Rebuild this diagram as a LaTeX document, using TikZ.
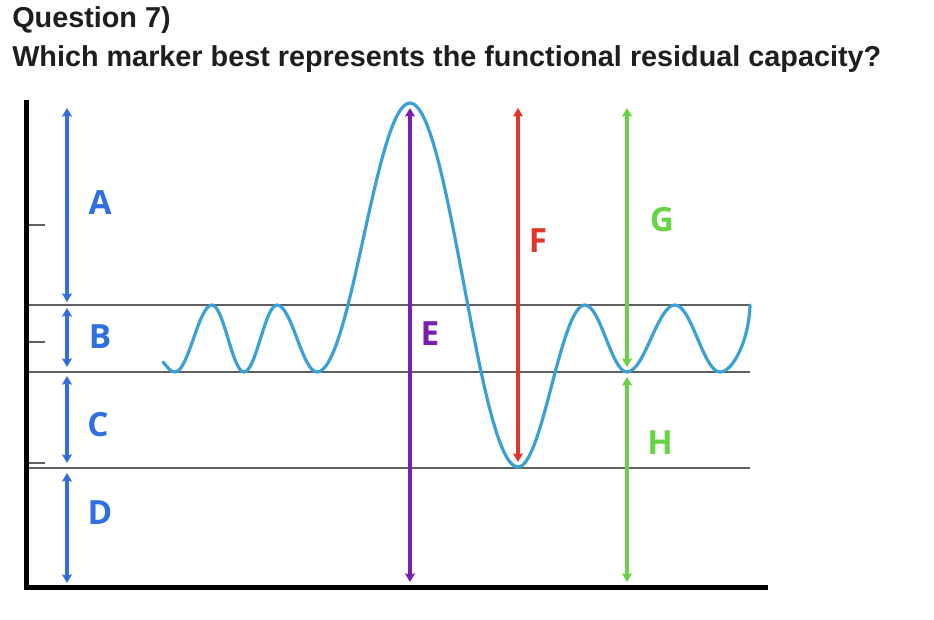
\documentclass[tikz,border=0pt]{standalone}
\usepackage{fontspec}
\setmainfont{Liberation Sans}
\newfontfamily\labelfont{Open Sans}
\usetikzlibrary{arrows.meta}
\definecolor{ablue}{HTML}{2F6FE0}
\definecolor{wavec}{HTML}{3BA0D6}
\definecolor{epurple}{HTML}{7A1FB0}
\definecolor{fred}{HTML}{E0352B}
\definecolor{ggreen}{HTML}{66D445}
\definecolor{gline}{HTML}{606060}
\definecolor{titlec}{HTML}{1E1E1E}
\tikzset{
  dbl/.style={line width=3.5pt, {Stealth[length=6.5pt,width=7.5pt,inset=1.3pt]}-{Stealth[length=6.5pt,width=7.5pt,inset=1.3pt]}},
  lbl/.style={inner sep=0pt, font=\labelfont\bfseries\fontsize{25}{30}\selectfont},
  ttl/.style={inner sep=0pt, anchor=base west, text=titlec, font=\bfseries\fontsize{21.6}{26}\selectfont},
  level/.style={gline, line width=1.5pt},
  tick/.style={gline, line width=1.5pt},
}
\begin{document}
\begin{tikzpicture}[x=0.75pt, y=-0.75pt]
\useasboundingbox[fill=white] (0,0) rectangle (934,620);
% title
\node[ttl] (q) at (12,28) {Question 7)};
\node[ttl] (w) at (12,67) {Which marker best represents the functional residual capacity?};
% level lines
\coordinate (L1a) at (29,305); \coordinate (L1b) at (750,305);
\coordinate (L2a) at (29,372); \coordinate (L2b) at (750,372);
\coordinate (L3a) at (29,468); \coordinate (L3b) at (750,468);
\draw[level] (L1a) -- (L1b);
\draw[level] (L2a) -- (L2b);
\draw[level] (L3a) -- (L3b);
% ticks
\coordinate (t1a) at (29,225); \coordinate (t1b) at (45,225);
\coordinate (t2a) at (29,342); \coordinate (t2b) at (45,342);
\coordinate (t3a) at (29,463); \coordinate (t3b) at (45,463);
\draw[tick] (t1a) -- (t1b);
\draw[tick] (t2a) -- (t2b);
\draw[tick] (t3a) -- (t3b);
% axes
\coordinate (ytop) at (26.5,100);
\coordinate (orig) at (26.5,587.5);
\coordinate (xend) at (768,587.5);
\draw[black, line width=3.75pt, line join=miter] (ytop) -- (orig) -- (xend);
% wave
\draw[wavec, line width=2.4pt, line cap=round]
  (163,362) .. controls (168,368) and (171,372) .. (175,372)
  .. controls (188.5,372) and (198.5,305) .. (212,305)
  .. controls (223.6,305) and (232.4,372) .. (244,372)
  .. controls (256,372) and (265,305) .. (277,305)
  .. controls (291.6,305) and (302.4,372) .. (317,372)
  .. controls (350.9,372) and (376.1,103) .. (410,103)
  .. controls (449.3,103) and (478.7,467) .. (518,467)
  .. controls (542.4,467) and (560.6,305) .. (585,305)
  .. controls (600.3,305) and (611.7,372) .. (627,372)
  .. controls (644.5,372) and (657.5,305) .. (675,305)
  .. controls (691.4,305) and (703.6,372) .. (720,372)
  .. controls (733,372) and (749,340) .. (750,305);
% blue arrows
\coordinate (Aa) at (67,108); \coordinate (Ab) at (67,302);
\coordinate (Ba) at (67,308); \coordinate (Bb) at (67,367);
\coordinate (Ca) at (67,376); \coordinate (Cb) at (67,463);
\coordinate (Da) at (67,473); \coordinate (Db) at (67,583);
\draw[dbl, ablue] (Aa) -- (Ab);
\draw[dbl, ablue] (Ba) -- (Bb);
\draw[dbl, ablue] (Ca) -- (Cb);
\draw[dbl, ablue] (Da) -- (Db);
% E F G H
\coordinate (Ea) at (410,108); \coordinate (Eb) at (410,582);
\coordinate (Fa) at (518,108); \coordinate (Fb) at (518,462);
\coordinate (Ga) at (627,108); \coordinate (Gb) at (627,367);
\coordinate (Ha) at (627,377); \coordinate (Hb) at (627,582);
\draw[dbl, epurple, line width=3.7pt] (Ea) -- (Eb);
\draw[dbl, fred] (Fa) -- (Fb);
\draw[dbl, ggreen, line width=3.7pt] (Ga) -- (Gb);
\draw[dbl, ggreen, line width=3.7pt] (Ha) -- (Hb);
% labels
\node[lbl, text=ablue] (A) at (100,203) {A};
\node[lbl, text=ablue] (B) at (100,337) {B};
\node[lbl, text=ablue] (C) at (98,425) {C};
\node[lbl, text=ablue] (D) at (100,513) {D};
\node[lbl, text=epurple] (E) at (430,334) {E};
\node[lbl, text=fred] (F) at (538,241) {F};
\node[lbl, text=ggreen] (G) at (662,220) {G};
\node[lbl, text=ggreen] (H) at (660,443) {H};
\end{tikzpicture}
\end{document}
